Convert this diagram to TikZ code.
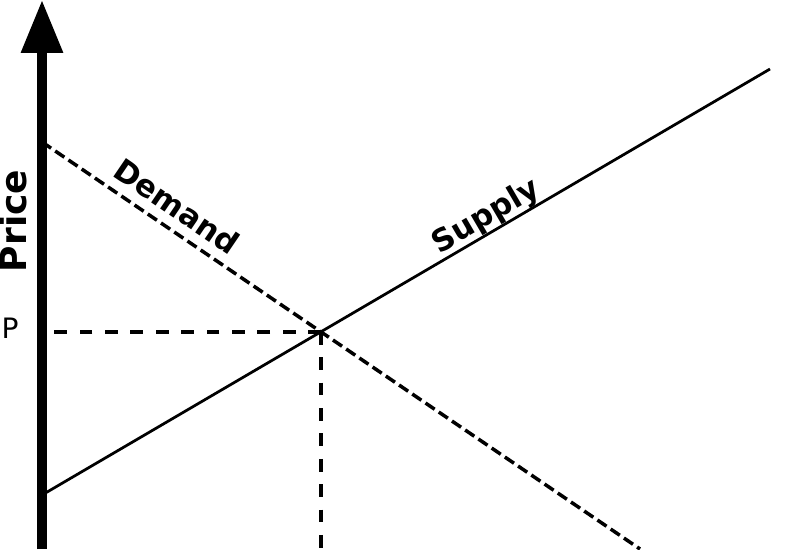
\documentclass[tikz,border=0pt]{standalone}
\usepackage{fontspec}
\setmainfont{DejaVu Sans}
\usetikzlibrary{arrows.meta}
\begin{document}
\begin{tikzpicture}[x=0.02cm,y=-0.02cm,
  guide/.style={line width=0.07cm,dash pattern=on 0.254cm off 0.254cm},
  curvelabel/.style={font=\bfseries\fontsize{17.5}{19}\selectfont,inner sep=0pt}]
\useasboundingbox (0,0) rectangle (800,549);
\coordinate (origin) at (42,549);
\coordinate (top) at (42,0);
\coordinate (dstart) at (42,142);
\coordinate (dend) at (640,549);
\coordinate (sstart) at (42,495);
\coordinate (send) at (770,69);
\coordinate (eq) at (intersection of dstart--dend and sstart--send);
\draw[line width=0.055cm] (sstart) -- (send);
\draw[line width=0.07cm,dash pattern=on 0.22cm off 0.1cm] (dstart) -- (dend);
\draw[guide] (eq) -- (eq -| origin);
\draw[guide] (eq) -- (eq |- origin);
\draw[line width=0.19cm,-{Triangle[length=1.06cm,width=0.8cm]}] (origin) -- (top);
\node (demand) at (177,206) [curvelabel,rotate=-34.2] {Demand};
\node (supply) at (486,217) [curvelabel,rotate=30.3] {Supply};
\node (price) at (13,221) [rotate=90,inner sep=0pt,font=\bfseries\fontsize{20.5}{23}\selectfont] {Price};
\node (p) at (10,328) [inner sep=0pt,font=\fontsize{16}{18}\selectfont] {P};
\end{tikzpicture}
\end{document}
